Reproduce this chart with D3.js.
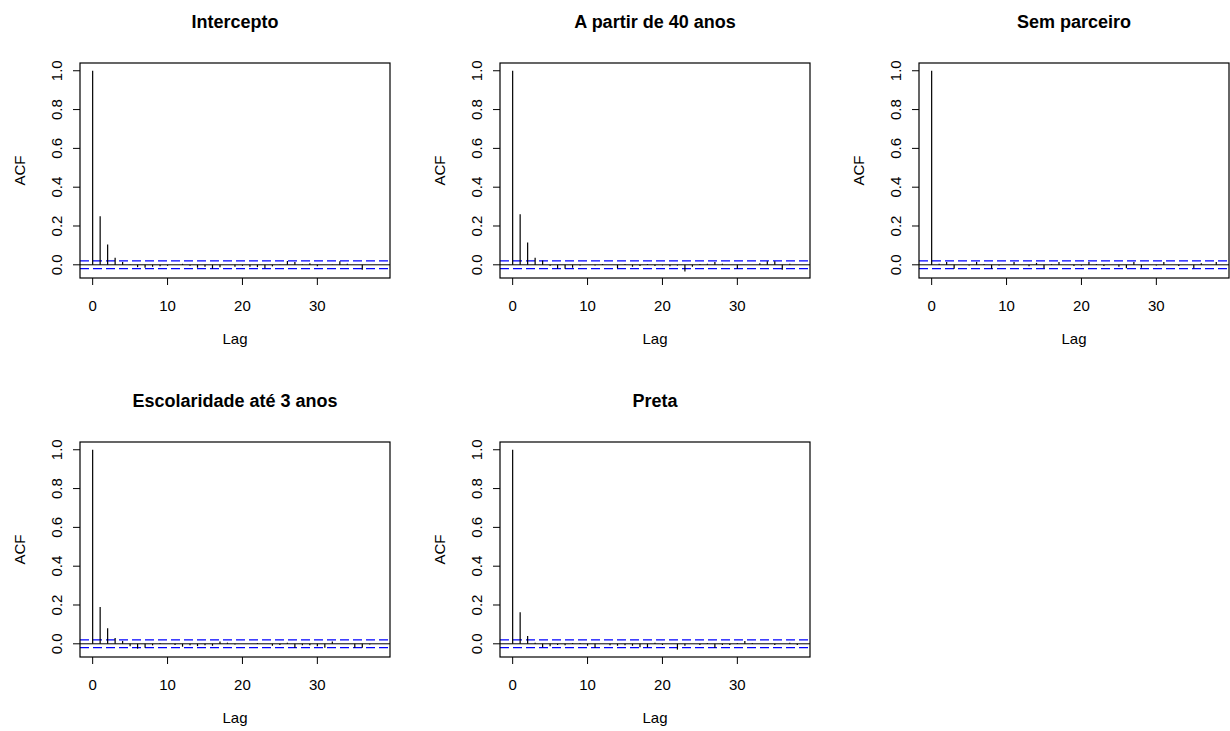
<!DOCTYPE html>
<html>
<head>
<meta charset="utf-8">
<script src="https://cdn.jsdelivr.net/npm/d3@7"></script>
<style>
  body { margin: 0; background: #fff; }
  svg { font-family: "Liberation Sans", Arial, sans-serif; }
</style>
</head>
<body>
<div id="chart"></div>
<script>
// ACF values per parameter, lags 0..38
const lags = d3.range(0, 39);
const titles = ["Intercepto", "A partir de 40 anos", "Sem parceiro", "Escolaridade até 3 anos", "Preta"];

const acfIntercepto = [1.0, 0.25, 0.105, 0.036, 0.014, 0.002, -0.012, -0.015, -0.01, -0.008,
  -0.005, 0.0, 0.005, -0.005, -0.015, -0.01, -0.02, -0.012, 0.0, -0.01,
  -0.005, -0.01, -0.012, -0.018, -0.008, 0.002, 0.02, 0.015, 0.003, 0.008,
  -0.008, 0.0, 0.002, 0.018, 0.006, 0.0, -0.025, 0.0, 0.0];
const acfQuarenta = [1.0, 0.26, 0.115, 0.036, 0.022, -0.005, -0.02, -0.02, -0.015, -0.003,
  0.0, -0.004, 0.004, 0.0, -0.018, 0.004, -0.01, -0.006, 0.004, -0.006,
  -0.003, -0.008, -0.004, -0.035, -0.01, 0.004, 0.006, 0.015, 0.006, 0.0,
  -0.02, 0.0, 0.0, 0.008, 0.018, 0.018, -0.025, 0.006, 0.0];
const acfSemParceiro = [1.0, 0.005, 0.015, -0.02, 0.0, -0.004, 0.015, 0.004, -0.02, -0.004,
  0.0, 0.015, 0.0, -0.008, 0.01, -0.018, 0.004, 0.015, 0.0, -0.006,
  -0.004, 0.015, 0.004, -0.006, 0.0, -0.01, -0.018, 0.015, -0.015, 0.0,
  -0.004, 0.015, 0.0, -0.006, 0.0, -0.018, 0.008, 0.0, 0.015];
const acfEscolaridade = [1.0, 0.19, 0.08, 0.03, 0.015, -0.012, -0.025, -0.02, -0.008, 0.004,
  0.0, -0.006, -0.015, -0.008, -0.012, -0.008, -0.01, 0.012, 0.006, -0.003,
  0.0, 0.0, 0.004, 0.0, -0.01, -0.006, 0.006, -0.02, -0.008, -0.008,
  -0.012, -0.02, 0.012, 0.0, 0.0, -0.02, -0.02, -0.004, 0.0];
const acfPreta = [1.0, 0.163, 0.04, 0.006, -0.018, -0.012, -0.006, -0.008, 0.004, 0.004,
  -0.01, -0.02, 0.0, -0.008, -0.01, -0.008, -0.01, -0.018, -0.018, 0.006,
  -0.006, 0.0, -0.03, -0.01, 0.0, -0.006, 0.004, -0.02, -0.006, -0.006,
  0.004, 0.015, 0.004, 0.0, 0.0, -0.006, 0.0, 0.006, -0.006];

const series = [acfIntercepto, acfQuarenta, acfSemParceiro, acfEscolaridade, acfPreta];
const ciBound = 0.02;
const yTicks = [0.0, 0.2, 0.4, 0.6, 0.8, 1.0];
const xTicks = [0, 10, 20, 30];

const W = 1230, H = 731;
const svg = d3.select('#chart').append('svg')
  .attr('width', W).attr('height', H);

// panel geometry
const boxW = 310, boxH = 215;
const colX = [80, 500, 919];
const rowY = [63, 442];

const x = d3.scaleLinear().domain([-1.69, 39.7]).range([0, boxW]);
const y = d3.scaleLinear().domain([-0.068, 1.04]).range([boxH, 0]);

series.forEach((vals, i) => {
  const g = svg.append('g')
    .attr('transform', `translate(${colX[i % 3]},${rowY[Math.floor(i / 3)]})`);

  // title
  g.append('text')
    .attr('x', boxW / 2).attr('y', -35)
    .attr('text-anchor', 'middle')
    .attr('font-size', 18).attr('font-weight', 'bold')
    .text(titles[i]);

  // blue confidence lines
  [ciBound, -ciBound].forEach(c => {
    g.append('line')
      .attr('x1', 0).attr('x2', boxW)
      .attr('y1', y(c)).attr('y2', y(c))
      .attr('stroke', '#0000ff').attr('stroke-width', 1.3)
      .attr('stroke-dasharray', '9,4');
  });

  // zero line
  g.append('line')
    .attr('x1', 0).attr('x2', boxW)
    .attr('y1', y(0)).attr('y2', y(0))
    .attr('stroke', '#000').attr('stroke-width', 1);

  // spikes
  g.selectAll('line.spike')
    .data(lags)
    .enter().append('line')
    .attr('class', 'spike')
    .attr('x1', d => x(d)).attr('x2', d => x(d))
    .attr('y1', y(0)).attr('y2', d => y(vals[d]))
    .attr('stroke', '#000').attr('stroke-width', 1.2);

  // box
  g.append('rect')
    .attr('x', 0).attr('y', 0)
    .attr('width', boxW).attr('height', boxH)
    .attr('fill', 'none').attr('stroke', '#000').attr('stroke-width', 1.2);

  // y axis, labels rotated like base R
  const yAxis = g.append('g');
  yAxis.selectAll('line')
    .data(yTicks).enter().append('line')
    .attr('x1', 0).attr('x2', -7)
    .attr('y1', d => y(d)).attr('y2', d => y(d))
    .attr('stroke', '#000');
  yAxis.selectAll('text')
    .data(yTicks).enter().append('text')
    .attr('transform', d => `translate(-18,${y(d)}) rotate(-90)`)
    .attr('text-anchor', 'middle')
    .attr('font-size', 15)
    .text(d => d3.format('.1f')(d));

  // x axis
  const xAxis = g.append('g');
  xAxis.selectAll('line')
    .data(xTicks).enter().append('line')
    .attr('x1', d => x(d)).attr('x2', d => x(d))
    .attr('y1', boxH).attr('y2', boxH + 7)
    .attr('stroke', '#000');
  xAxis.selectAll('text')
    .data(xTicks).enter().append('text')
    .attr('x', d => x(d)).attr('y', boxH + 33)
    .attr('text-anchor', 'middle')
    .attr('font-size', 15)
    .text(d => d);

  // axis titles
  g.append('text')
    .attr('x', boxW / 2).attr('y', boxH + 66)
    .attr('text-anchor', 'middle')
    .attr('font-size', 15)
    .text('Lag');
  g.append('text')
    .attr('transform', `translate(-55,${boxH / 2}) rotate(-90)`)
    .attr('text-anchor', 'middle')
    .attr('font-size', 15)
    .text('ACF');
});
</script>
</body>
</html>
